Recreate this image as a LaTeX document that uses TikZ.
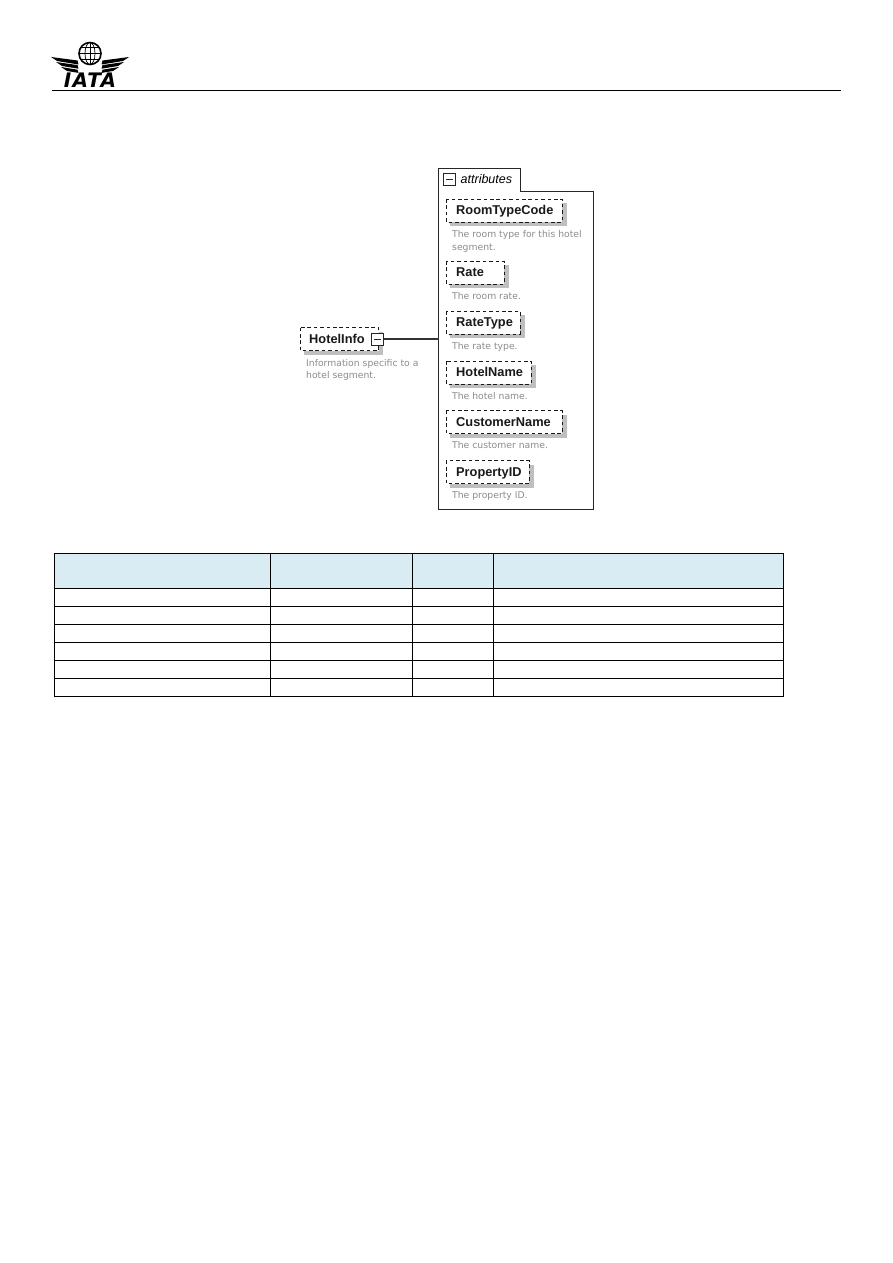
\documentclass[tikz,border=0pt]{standalone}
\usepackage{fontspec}
\setmainfont{Liberation Sans}
\newfontfamily\verd{DejaVu Sans}
\definecolor{tablehead}{RGB}{218,236,243}
\begin{document}
\begin{tikzpicture}[x=1pt,y=-1pt,
  el/.style={draw=black!90,dash pattern=on 3.6pt off 2.8pt,line width=1pt,fill=white},
  shadow/.style={fill=black!25,draw=none},
  eln/.style={font=\fontsize{12.8}{12.8}\selectfont\bfseries,anchor=base west,inner sep=0pt,text=black!90},
  desc/.style={font=\verd\fontsize{9.25}{12.5}\selectfont,anchor=north west,inner sep=0pt,text=black!45,align=left},
  grid/.style={draw=black,line width=1pt},
  box/.style={draw=black!85,line width=1.1pt}]
\useasboundingbox (0,0) rectangle (893,1263);
\fill[white] (0,0) rectangle (893,1263);
% header
\coordinate (ruleL) at (52,90.5); \coordinate (ruleR) at (841,90.5);
\draw[line width=0.9pt] (ruleL) -- (ruleR);
% logo
\coordinate (gl) at (90,53.5);
\draw[line width=1.6pt] (gl) circle (11);
\draw[line width=0.7pt] (gl) ellipse (5 and 11);
\draw[line width=0.7pt] (79,53.5) -- (101,53.5) (81,47.5) -- (99,47.5) (81,59.5) -- (99,59.5) (90,42.5) -- (90,64.5);
\foreach \d in {0,1,2}{
  \fill ({51+5*\d},{57+5*\d}) -- ({77.5},{60.5+4.6*\d}) -- ({78.5},{64.5+4.2*\d}) -- ({57+5*\d},{61+5*\d}) -- cycle;
  \fill ({129-5*\d},{57+5*\d}) -- ({102.5},{60.5+4.6*\d}) -- ({101.5},{64.5+4.2*\d}) -- ({123-5*\d},{61+5*\d}) -- cycle;
}
\node[inner sep=0pt,anchor=base] (iata) at (90,88) {\verd\fontsize{20}{20}\selectfont\bfseries\itshape\addfontfeature{LetterSpace=6}IATA};
% attributes box
\draw[box,fill=white] (438.5,191.5) -- (438.5,168.5) -- (520.5,168.5) -- (520.5,191.5) -- (593.5,191.5) -- (593.5,509.5) -- (438.5,509.5) -- cycle;
\coordinate (boxW) at (438.5,339);
\draw[box] (443.5,173.5) rectangle (455.5,185.5);
\draw[box] (446,179.5) -- (453,179.5);
\node[inner sep=0pt,anchor=west,font=\fontsize{12.5}{12.5}\selectfont\itshape] (attr) at (460.5,179.5) {attributes};
% HotelInfo
\fill[shadow] (304,332) rectangle (383,355);
\draw[el] (300,327.5) rectangle (378.5,350.5);
\node[eln] (hi) at (309,343.5) {HotelInfo};
\draw[box,fill=white] (371.5,333.5) rectangle (383.5,345.5);
\draw[box] (374,339.5) -- (381,339.5);
\coordinate (hiE) at (383.5,339);
\draw[line width=1.1pt,black!80] (hiE) -- (boxW);
\node[desc] (hid) at (306,359) {Information specific to a\\hotel segment.};
% elements
\foreach \n/\t/\w/\y in {rt/RoomTypeCode/116/199,ra/Rate/58/261,rty/RateType/74/311,hn/HotelName/85/361,cn/CustomerName/116/410.5,pi/PropertyID/83/460.5}{
  \fill[shadow] (450,{\y+4}) rectangle ({446+\w+4.5},{\y+27});
  \draw[el] (446,\y) rectangle ({446+\w},{\y+23});
  \node[eln] (\n) at (456,{\y+15.8}) {\t};
}
\node[desc] (rtd) at (452,230.5) {The room type for this hotel\\segment.};
\node[desc] (rad) at (452,292.5) {The room rate.};
\node[desc] (rtyd) at (452,342) {The rate type.};
\node[desc] (hnd) at (452,392) {The hotel name.};
\node[desc] (cnd) at (452,441.5) {The customer name.};
\node[desc] (pid) at (452,491.5) {The property ID.};
% table
\fill[tablehead] (54.5,553.5) rectangle (783.5,588.5);
\draw[grid] (54.5,553.5) rectangle (783.5,696.5);
\foreach \x in {270.5,412.5,493.5} \draw[grid] (\x,553.5) -- (\x,696.5);
\foreach \y in {588.5,606.5,624.5,642.5,660.5,678.5} \draw[grid] (54.5,\y) -- (783.5,\y);
\end{tikzpicture}
\end{document}
